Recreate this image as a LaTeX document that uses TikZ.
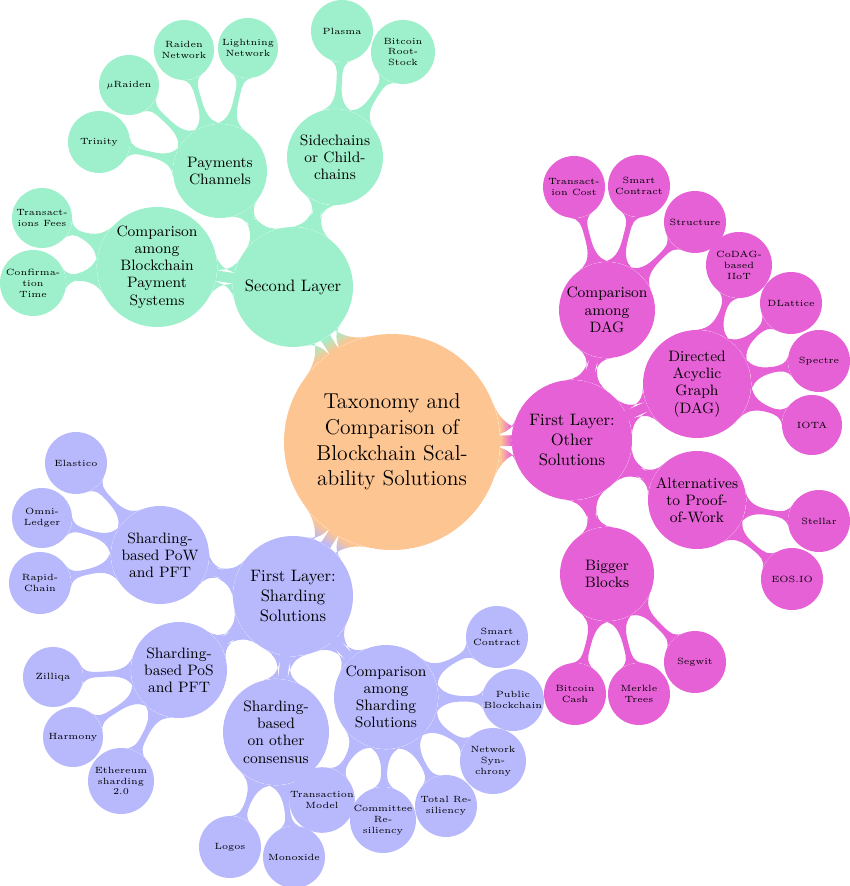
\documentclass[tikz,border=0pt]{standalone}
\usetikzlibrary{mindmap}
\definecolor{rootc}{RGB}{253,197,146}
\definecolor{greenc}{RGB}{158,240,204}
\definecolor{magc}{RGB}{230,96,214}
\definecolor{bluec}{RGB}{184,184,252}
\newlength\pxu
\setlength\pxu{0.6042pt}
\pgfdeclarelayer{background}
\pgfsetlayers{background,main}
\tikzset{
  cpt/.style={circle, inner sep=0pt, align=center, text=black},
  rootcpt/.style={cpt, fill=rootc, minimum size=216\pxu, font=\fontsize{13}{15.5}\selectfont},
  lone/.style={cpt, minimum size=120\pxu, font=\fontsize{10}{12}\selectfont},
  ltwo/.style={cpt, minimum size=#1\pxu, font=\fontsize{9.1}{10.4}\selectfont},
  lthree/.style={cpt, minimum size=#1\pxu, font=\fontsize{5.45}{6.6}\selectfont},
  gr/.style={fill=greenc},
  mg/.style={fill=magc},
  bl/.style={fill=bluec},
  gbar/.style={circle connection bar switch color=from (greenc) to (greenc)},
  mbar/.style={circle connection bar switch color=from (magc) to (magc)},
  bbar/.style={circle connection bar switch color=from (bluec) to (bluec)},
  rgbar/.style={circle connection bar switch color=from (rootc) to (greenc)},
  rmbar/.style={circle connection bar switch color=from (rootc) to (magc)},
  rbbar/.style={circle connection bar switch color=from (rootc) to (bluec)},
}
\begin{document}
\begin{tikzpicture}[x=0.6042pt, y=-0.6042pt]
\useasboundingbox (0,0) rectangle (850,886);
% root
\node[rootcpt] (root) at (392,442) {Taxonomy and\\Comparison of\\Blockchain Scal-\\ability Solutions};
% ---------- green branch
\node[lone, gr] (secL) at (293,287) {Second Layer};
\node[ltwo=120, gr] (cmpBP) at (157,267) {Comparison\\among\\Blockchain\\Payment\\Systems};
\node[lthree=60, gr] (txF) at (42,218) {Transact-\\ions Fees};
\node[lthree=66, gr] (conT) at (33,283) {Confirma-\\tion\\Time};
\node[ltwo=94, gr] (payC) at (220,171) {Payments\\Channels};
\node[lthree=62, gr] (trin) at (99,142) {Trinity};
\node[lthree=60, gr] (muR) at (129,85) {$\mu$Raiden};
\node[lthree=60, gr] (raiN) at (184,50) {Raiden\\Network};
\node[lthree=60, gr] (litN) at (248,48) {Lightning\\Network};
\node[ltwo=96, gr] (side) at (335,157) {Sidechains\\or Child-\\chains};
\node[lthree=62, gr] (plas) at (342,31) {Plasma};
\node[lthree=64, gr] (rsk) at (403,52) {Bitcoin\\Root-\\Stock};
% ---------- magenta branch
\node[lone, mg] (fLO) at (572,440) {First Layer:\\Other\\Solutions};
\node[ltwo=96, mg] (cDAG) at (607,310) {Comparison\\among\\DAG};
\node[lthree=62, mg] (txC) at (574,187) {Transact-\\ion Cost};
\node[lthree=62, mg] (smC) at (639,186) {Smart\\Contract};
\node[lthree=62, mg] (strc) at (695,222) {Structure};
\node[ltwo=108, mg] (dag) at (697,384) {Directed\\Acyclic\\Graph\\(DAG)};
\node[lthree=66, mg] (codag) at (739,265) {CoDAG-\\based\\IIoT};
\node[lthree=62, mg] (dlat) at (791,303) {DLattice};
\node[lthree=62, mg] (spec) at (819,361) {Spectre};
\node[lthree=60, mg] (iota) at (812,425) {IOTA};
\node[ltwo=98, mg] (alt) at (697,500) {Alternatives\\to Proof-\\of-Work};
\node[lthree=62, mg] (stel) at (819,521) {Stellar};
\node[lthree=62, mg] (eos) at (792,579) {EOS.IO};
\node[ltwo=94, mg] (bigB) at (607,574) {Bigger\\Blocks};
\node[lthree=62, mg] (segw) at (695,662) {Segwit};
\node[lthree=62, mg] (merk) at (639,694) {Merkle\\Trees};
\node[lthree=62, mg] (bcash) at (575,694) {Bitcoin\\Cash};
% ---------- blue branch
\node[lone, bl] (fLS) at (293,596) {First Layer:\\Sharding\\Solutions};
\node[ltwo=98, bl] (pow) at (160,555) {Sharding-\\based PoW\\and PFT};
\node[lthree=62, bl] (elas) at (76,463) {Elastico};
\node[lthree=60, bl] (omni) at (42,518) {Omni-\\Ledger};
\node[lthree=62, bl] (rapid) at (40,583) {Rapid-\\Chain};
\node[ltwo=96, bl] (pos) at (179,670) {Sharding-\\based PoS\\and PFT};
\node[lthree=60, bl] (zil) at (53,677) {Zilliqa};
\node[lthree=60, bl] (harm) at (73,737) {Harmony};
\node[lthree=66, bl] (eth) at (121,781) {Ethereum\\sharding\\2.0};
\node[ltwo=106, bl] (oth) at (276,732) {Sharding-\\based\\on other\\consensus};
\node[lthree=62, bl] (logos) at (230,847) {Logos};
\node[lthree=62, bl] (monox) at (294,857) {Monoxide};
\node[ltwo=104, bl] (cmpS) at (386,697) {Comparison\\among\\Sharding\\Solutions};
\node[lthree=62, bl] (txM) at (322,800) {Transaction\\Model};
\node[lthree=64, bl] (comR) at (383,820) {Committee\\Re-\\siliency};
\node[lthree=62, bl] (totR) at (446,806) {Total Re-\\siliency};
\node[lthree=66, bl] (netS) at (493,761) {Network\\Syn-\\chrony};
\node[lthree=62, bl] (pubB) at (513,700) {Public\\Blockchain};
\node[lthree=62, bl] (smC2) at (497,637) {Smart\\Contract};
% ---------- connection bars
\begin{pgfonlayer}{background}
\path (root) to[rgbar] (secL);
\path (root) to[rmbar] (fLO);
\path (root) to[rbbar] (fLS);
\path (secL) to[gbar] (cmpBP);
\path (secL) to[gbar] (payC);
\path (secL) to[gbar] (side);
\path (cmpBP) to[gbar] (txF);
\path (cmpBP) to[gbar] (conT);
\path (payC) to[gbar] (trin);
\path (payC) to[gbar] (muR);
\path (payC) to[gbar] (raiN);
\path (payC) to[gbar] (litN);
\path (side) to[gbar] (plas);
\path (side) to[gbar] (rsk);
\path (fLO) to[mbar] (cDAG);
\path (fLO) to[mbar] (dag);
\path (fLO) to[mbar] (alt);
\path (fLO) to[mbar] (bigB);
\path (cDAG) to[mbar] (txC);
\path (cDAG) to[mbar] (smC);
\path (cDAG) to[mbar] (strc);
\path (dag) to[mbar] (codag);
\path (dag) to[mbar] (dlat);
\path (dag) to[mbar] (spec);
\path (dag) to[mbar] (iota);
\path (alt) to[mbar] (stel);
\path (alt) to[mbar] (eos);
\path (bigB) to[mbar] (segw);
\path (bigB) to[mbar] (merk);
\path (bigB) to[mbar] (bcash);
\path (fLS) to[bbar] (pow);
\path (fLS) to[bbar] (pos);
\path (fLS) to[bbar] (oth);
\path (fLS) to[bbar] (cmpS);
\path (pow) to[bbar] (elas);
\path (pow) to[bbar] (omni);
\path (pow) to[bbar] (rapid);
\path (pos) to[bbar] (zil);
\path (pos) to[bbar] (harm);
\path (pos) to[bbar] (eth);
\path (oth) to[bbar] (logos);
\path (oth) to[bbar] (monox);
\path (cmpS) to[bbar] (txM);
\path (cmpS) to[bbar] (comR);
\path (cmpS) to[bbar] (totR);
\path (cmpS) to[bbar] (netS);
\path (cmpS) to[bbar] (pubB);
\path (cmpS) to[bbar] (smC2);
\end{pgfonlayer}
\end{tikzpicture}
\end{document}
